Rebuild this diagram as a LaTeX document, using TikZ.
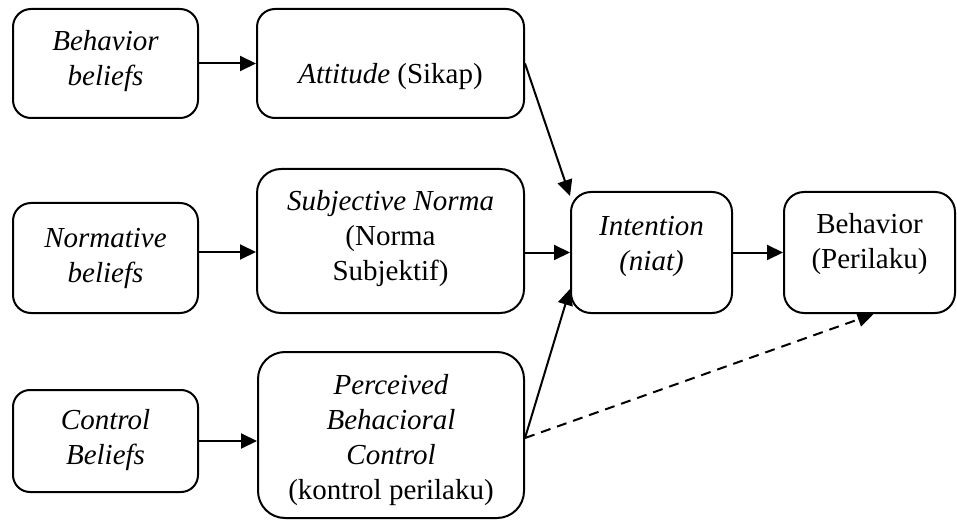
\documentclass[tikz,border=0pt]{standalone}
\usepackage{fontspec}
\setmainfont{Liberation Serif}
\usetikzlibrary{arrows.meta,calc}
\tikzset{
  box/.style={draw, line width=2pt, inner sep=0pt},
  txt/.style={align=center, inner sep=0pt, font=\fontsize{29pt}{35pt}\selectfont},
  arr/.style={line width=2pt, -{Triangle[length=16pt,width=15pt]}},
  darr/.style={arr, dash pattern=on 10pt off 7pt}
}
\begin{document}
\begin{tikzpicture}[x=1pt,y=1pt]
\useasboundingbox (0,0) rectangle (957,520);
% boxes
\node[box, minimum width=185pt, minimum height=109pt, rounded corners=18pt] (bb) at (105.5,456.5) {};
\node[box, minimum width=267pt, minimum height=109pt, rounded corners=18pt] (att) at (390.5,456.5) {};
\node[box, minimum width=185pt, minimum height=110pt, rounded corners=18pt] (nb) at (105.5,262) {};
\node[box, minimum width=267pt, minimum height=144pt, rounded corners=24pt] (sn) at (390.5,279) {};
\node[box, minimum width=161pt, minimum height=121pt, rounded corners=20pt] (int) at (651.5,267.5) {};
\node[box, minimum width=171pt, minimum height=121pt, rounded corners=20pt] (beh) at (869.5,267.5) {};
\node[box, minimum width=185pt, minimum height=102pt, rounded corners=17pt] (cb) at (105.5,79) {};
\node[box, minimum width=266pt, minimum height=166pt, rounded corners=27pt] (pbc) at (391,85) {};
% texts
\node[txt] (bbT) at (105.5,459) {\textit{Behavior}\\\textit{beliefs}};
\node[txt] (attT) at (390.5,443) {\textit{Attitude} (Sikap)};
\node[txt] (nbT) at (105.5,262) {\textit{Normative}\\\textit{beliefs}};
\node[txt] (snT) at (390.5,281) {\textit{Subjective Norma}\\(Norma\\Subjektif)};
\node[txt] (intT) at (651.5,274) {\textit{Intention}\\\textit{(niat)}};
\node[txt] (behT) at (869.5,276) {Behavior\\(Perilaku)};
\node[txt] (cbT) at (105.5,80) {\textit{Control}\\\textit{Beliefs}};
\node[txt] (pbcT) at (391,80) {\textit{Perceived}\\\textit{Behacioral}\\\textit{Control}\\(kontrol perilaku)};
% helper coordinates
\coordinate (nbo) at ([yshift=6pt]nb.east);
\coordinate (pbo) at ([yshift=-3pt]pbc.east);
\coordinate (intTop) at ([yshift=-5pt]int.north west);
\coordinate (intBot) at ([yshift=25pt]int.south west);
\coordinate (behBot) at ([xshift=4pt]beh.south);
% connectors
\draw[arr] (bb.east) -- (att.west);
\draw[arr] (nbo) -- (nbo -| sn.west);
\draw[arr] (cb.east) -- (cb.east -| pbc.west);
\draw[arr] (int.west -| sn.east) -- (int.west);
\draw[arr] (int.east) -- (beh.west);
\draw[arr] (att.east) -- (intTop);
\draw[arr] (pbo) -- (intBot);
\draw[darr] (pbo) -- (behBot);
\end{tikzpicture}
\end{document}
